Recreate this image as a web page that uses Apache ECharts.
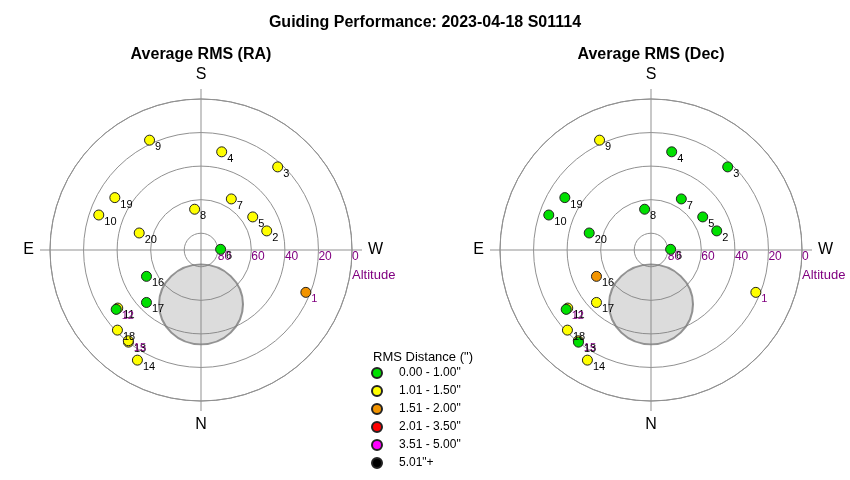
<!DOCTYPE html>
<html>
<head>
<meta charset="utf-8">
<script src="https://cdn.jsdelivr.net/npm/echarts@6/dist/echarts.min.js"></script>
<style>
  html, body { margin: 0; padding: 0; background: #fff; }
  #chart { width: 850px; height: 480px; }
</style>
</head>
<body>
<div id="chart"></div>
<script>
// ---- Data ----
const pointIds = [1, 2, 3, 4, 5, 6, 7, 8, 9, 10, 11, 12, 13, 14, 15, 16, 17, 18, 19, 20];
const altitude = [22.6, 49.2, 22.6, 30.2, 53.4, 78.3, 54.6, 65.4, 17.7, 25.6, 29.5, 28.3, 20.1, 14.2, 20.7, 53.9, 44.9, 21.0, 29.9, 51.8];
const azimuth  = [292, 253.8, 222.7, 191.9, 237.4, 268, 210.7, 171.1, 154.9, 108.9, 55.1, 55.0, 38.2, 30.0, 38.7, 64.2, 46.1, 46.2, 121.3, 105.4];
const rmsRA    = [1.72, 1.25, 1.30, 1.20, 1.15, 0.85, 1.20, 1.10, 1.35, 1.20, 1.10, 0.90, 1.30, 1.40, 1.20, 0.90, 0.95, 1.25, 1.30, 1.20];
const rmsDec   = [1.20, 0.80, 0.85, 0.90, 0.80, 0.70, 0.85, 0.75, 1.10, 0.90, 1.05, 0.80, 0.90, 1.15, 1.10, 1.60, 1.05, 1.20, 0.85, 0.80];
const purpleLabelIds = [1, 12, 15];

const bucketUpper = [1.0, 1.5, 2.0, 3.5, 5.0, Infinity];
const bucketNames = ['0.00 - 1.00"', '1.01 - 1.50"', '1.51 - 2.00"', '2.01 - 3.50"', '3.51 - 5.00"', '5.01"+'];
const bucketColors = ['#00e000', '#ffff00', '#f29400', '#ff0000', '#ff00ff', '#000000'];

const compassLabels = { '-90': 'W', '0': 'N', '90': 'E', '180': 'S', '270': '' };
const radiusTicks = [0, 20, 40, 60, 80];

// pole / exclusion zone marker
const exclusionZone = { alt: 57.6, az: 0 };

const panels = [
  { title: 'Average RMS (RA)', rms: rmsRA, cx: 201 },
  { title: 'Average RMS (Dec)', rms: rmsDec, cx: 651 }
];
const mainTitle = 'Guiding Performance: 2023-04-18 S01114';

// ---- Build options ----
const FONT = 'Liberation Sans, Arial, sans-serif';
const GRID = '#919191';
function bucketOf(v) { for (let i = 0; i < bucketUpper.length; i++) if (v <= bucketUpper[i]) return i; return bucketUpper.length - 1; }
function azToAngle(az) { return az > 270 ? az - 360 : az; }

const polar = [], angleAxis = [], radiusAxis = [], series = [], graphic = [];

panels.forEach((p, pi) => {
  polar.push({ center: [p.cx, 250], radius: 151 });
  angleAxis.push({
    polarIndex: pi, type: 'value', min: -90, max: 270, interval: 90,
    startAngle: 0, clockwise: true,
    axisLine: { lineStyle: { color: GRID, width: 1 } },
    axisTick: { show: true, length: 10, lineStyle: { color: GRID, width: 1 } },
    axisLabel: { formatter: v => compassLabels[String(v)] || '', fontSize: 16, color: '#000', margin: 16, fontFamily: FONT },
    splitLine: { show: true, lineStyle: { color: GRID, width: 1 } }
  });
  radiusAxis.push({
    polarIndex: pi, type: 'value', min: 0, max: 90, interval: 20, inverse: true,
    axisLine: { show: false }, axisTick: { show: false },
    splitLine: { show: true, lineStyle: { color: GRID, width: 1 } },
    axisLabel: {
      formatter: v => (radiusTicks.indexOf(v) >= 0 ? String(v) : ''),
      color: '#800080', fontSize: 12, fontFamily: FONT, align: 'left', verticalAlign: 'top', margin: -1
    }
  });
  // exclusion zone circle
  series.push({
    type: 'scatter', coordinateSystem: 'polar', polarIndex: pi, silent: true, z: 1,
    symbolSize: [84, 80],
    itemStyle: { color: 'rgba(128,128,128,0.35)', borderColor: '#7a7a7a', borderWidth: 2 },
    data: [[exclusionZone.alt, azToAngle(exclusionZone.az)]],
    tooltip: { show: false }
  });
  // points, drawn so that better buckets are on top
  for (let b = bucketNames.length - 1; b >= 0; b--) {
    const data = [];
    pointIds.forEach((id, i) => {
      if (bucketOf(p.rms[i]) === b) {
        data.push({
          value: [altitude[i], azToAngle(azimuth[i]), id],
          label: { color: purpleLabelIds.indexOf(id) >= 0 ? '#800080' : '#000' }
        });
      }
    });
    series.push({
      name: bucketNames[b], type: 'scatter', coordinateSystem: 'polar', polarIndex: pi,
      symbol: 'circle', symbolSize: 10, z: 3,
      itemStyle: { color: bucketColors[b], borderColor: '#222', borderWidth: 1, opacity: 1 },
      label: {
        show: true, formatter: prm => String(prm.value[2]), position: [11, 7],
        align: 'left', verticalAlign: 'top', fontSize: 11, fontFamily: FONT, color: '#000'
      },
      emphasis: { disabled: true },
      data: data
    });
  }
  graphic.push({
    type: 'text', x: p.cx, y: 55,
    style: { text: p.title, font: 'bold 16px ' + FONT, fill: '#000', textAlign: 'center', textVerticalAlign: 'middle' }
  });
  graphic.push({
    type: 'text', x: p.cx + 151, y: 275,
    style: { text: 'Altitude', font: '13px ' + FONT, fill: '#800080', textAlign: 'left', textVerticalAlign: 'middle' }
  });
});

graphic.push({
  type: 'text', x: 373, y: 357,
  style: { text: 'RMS Distance (")', font: '13px ' + FONT, fill: '#000', textAlign: 'left', textVerticalAlign: 'middle' }
});

const option = {
  backgroundColor: '#fff',
  animation: false,
  title: {
    text: mainTitle, left: 'center', top: 10,
    textStyle: { fontSize: 16, fontWeight: 'bold', color: '#000', fontFamily: FONT }
  },
  legend: {
    data: bucketNames, orient: 'vertical', left: 371, top: 367, padding: 0,
    itemWidth: 10, itemHeight: 10, itemGap: 6, icon: 'circle',
    textStyle: { fontSize: 12, lineHeight: 12, color: '#000', fontFamily: FONT, padding: [0, 0, 0, 12] },
    selectedMode: false
  },
  polar, angleAxis, radiusAxis, series, graphic
};

const chart = echarts.init(document.getElementById('chart'));
chart.setOption(option);
</script>
</body>
</html>
